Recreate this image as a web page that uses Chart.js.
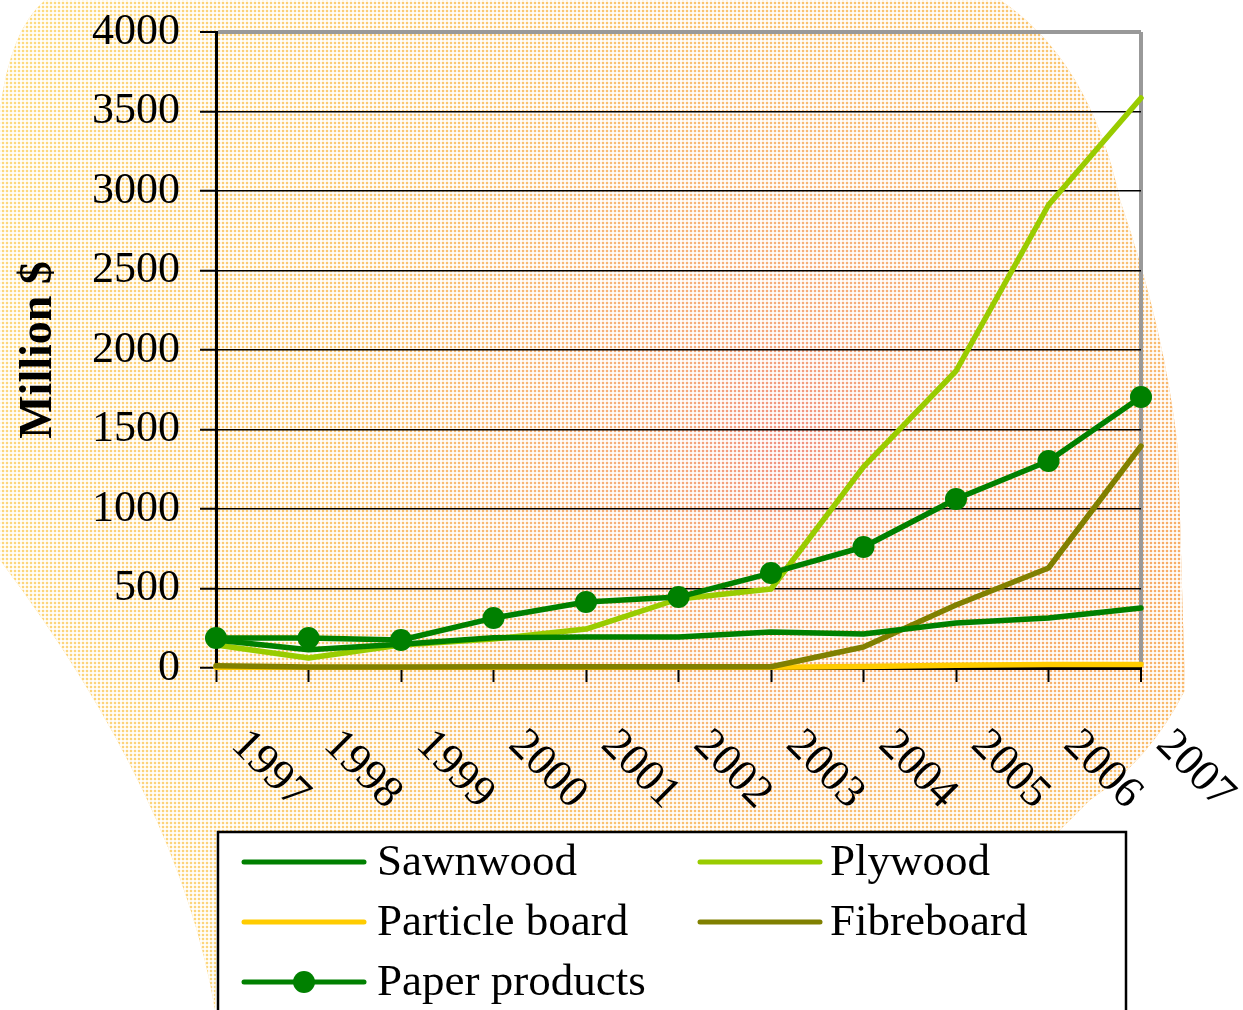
<!DOCTYPE html>
<html>
<head>
<meta charset="utf-8">
<script src="https://cdn.jsdelivr.net/npm/chart.js@4"></script>
<style>
  body { margin: 0; background: #fff; }
  #wrap { width: 1243px; height: 1010px; position: relative; }
</style>
</head>
<body>
<div id="wrap"><canvas id="woodChart"></canvas></div>
<script>
const years = ['1997', '1998', '1999', '2000', '2001', '2002', '2003', '2004', '2005', '2006', '2007'];
const sawnwood = [176, 115, 150, 190, 195, 195, 226, 214, 283, 314, 377];
const plywood = [145, 63, 145, 182, 245, 434, 497, 1265, 1868, 2912, 3585];
const particleBoard = [4, 4, 4, 4, 4, 4, 5, 10, 18, 22, 22];
const fibreboard = [14, 6, 6, 8, 8, 8, 8, 132, 396, 629, 1396];
const paperProducts = [189, 189, 176, 314, 415, 446, 597, 761, 1063, 1302, 1704];
const yTicks = [0, 500, 1000, 1500, 2000, 2500, 3000, 3500, 4000];

const serif = "'Liberation Serif', 'Times New Roman', serif";
Chart.defaults.color = '#000';

// dotted orange/yellow blob behind the chart
const backdrop = {
    id: 'backdrop',
    beforeDraw(chart) {
        const ctx = chart.ctx;
        ctx.save();
        ctx.fillStyle = '#fff';
        ctx.fillRect(0, 0, chart.width, chart.height);
        ctx.beginPath();
        ctx.moveTo(45, 0);
        ctx.lineTo(1000, 0);
        ctx.quadraticCurveTo(1090, 60, 1120, 200);
        ctx.quadraticCurveTo(1165, 330, 1178, 450);
        ctx.lineTo(1185, 690);
        ctx.quadraticCurveTo(1150, 760, 1090, 800);
        ctx.lineTo(1050, 840);
        ctx.lineTo(220, 840);
        ctx.lineTo(215, 1010);
        ctx.quadraticCurveTo(180, 800, 0, 560);
        ctx.lineTo(0, 110);
        ctx.quadraticCurveTo(10, 30, 45, 0);
        ctx.closePath();
        ctx.clip();
        const g = ctx.createRadialGradient(790, 440, 0, 790, 440, 900);
        g.addColorStop(0, '#F09080');
        g.addColorStop(0.14, '#F5AA7A');
        g.addColorStop(0.5, '#FAC470');
        g.addColorStop(1, '#FDDC80');
        ctx.fillStyle = g;
        ctx.fillRect(0, 0, chart.width, chart.height);
        // orange tint on the right-hand side of the blob
        const r = ctx.createRadialGradient(1110, 560, 0, 1110, 560, 260);
        r.addColorStop(0, 'rgba(245,150,90,0.6)');
        r.addColorStop(1, 'rgba(245,150,90,0)');
        ctx.fillStyle = r;
        ctx.fillRect(0, 0, chart.width, chart.height);
        // white grid to give the dotted texture
        ctx.fillStyle = 'rgba(255,255,255,0.82)';
        for (let x = 0; x < chart.width; x += 4) ctx.fillRect(x, 0, 2, chart.height);
        for (let y = 0; y < chart.height; y += 4) ctx.fillRect(0, y, chart.width, 2);
        ctx.restore();
    }
};

// slanted year labels and the boxed legend
const extras = {
    id: 'extras',
    afterDraw(chart) {
        const ctx = chart.ctx;
        const xs = chart.scales.x;
        ctx.save();
        ctx.fillStyle = '#000';
        ctx.font = '45px ' + serif;
        ctx.textAlign = 'left';
        ctx.textBaseline = 'top';
        years.forEach((yr, i) => {
            const px = xs.getPixelForTick(i);
            ctx.save();
            ctx.translate(px + 38, 722);
            ctx.rotate(Math.PI / 4);
            ctx.fillText(yr, 0, 0);
            ctx.restore();
        });

        // legend box
        ctx.fillStyle = '#fff';
        ctx.fillRect(218, 832, 908, 190);
        ctx.strokeStyle = '#000';
        ctx.lineWidth = 2.5;
        ctx.strokeRect(218, 832, 908, 190);

        ctx.font = '45px ' + serif;
        ctx.textBaseline = 'alphabetic';
        chart.data.datasets.forEach((ds, i) => {
            const col = i % 2, row = Math.floor(i / 2);
            const x0 = col === 0 ? 244 : 700;
            const y = 862 + row * 60;
            ctx.strokeStyle = ds.borderColor;
            ctx.lineWidth = 5;
            ctx.lineCap = 'round';
            ctx.beginPath();
            ctx.moveTo(x0, y);
            ctx.lineTo(x0 + 120, y);
            ctx.stroke();
            if (ds.pointRadius > 0) {
                ctx.fillStyle = ds.pointBackgroundColor;
                ctx.beginPath();
                ctx.arc(x0 + 60, y, 11, 0, Math.PI * 2);
                ctx.fill();
            }
            ctx.fillStyle = '#000';
            ctx.fillText(ds.label, col === 0 ? 377 : 830, y + 13);
        });
        ctx.restore();
    }
};

const line = (label, data, color, order, marker) => ({
    label,
    data,
    borderColor: color,
    backgroundColor: color,
    borderWidth: 5.5,
    borderCapStyle: 'round',
    borderJoinStyle: 'round',
    pointRadius: marker ? 11 : 0,
    pointHoverRadius: marker ? 11 : 0,
    pointBackgroundColor: color,
    pointBorderWidth: 0,
    tension: 0,
    clip: false,
    order
});

new Chart(document.getElementById('woodChart'), {
    type: 'line',
    data: {
        labels: years,
        datasets: [
            line('Sawnwood', sawnwood, '#008000', 1, false),
            line('Plywood', plywood, '#99CC00', 2, false),
            line('Particle board', particleBoard, '#FFCC00', 4, false),
            line('Fibreboard', fibreboard, '#808000', 3, false),
            line('Paper products', paperProducts, '#008000', 0, true)
        ]
    },
    options: {
        responsive: true,
        maintainAspectRatio: false,
        animation: false,
        layout: { padding: { top: 32, right: 102, left: 0, bottom: 0 } },
        plugins: {
            legend: { display: false },
            tooltip: { enabled: false }
        },
        scales: {
            x: {
                offset: false,
                ticks: { display: false },
                grid: {
                    color: c => c.index === years.length - 1 ? '#999999' : 'rgba(0,0,0,0)',
                    lineWidth: c => c.index === years.length - 1 ? 4 : 1,
                    tickColor: '#000',
                    tickWidth: 2,
                    tickLength: 14
                },
                border: { color: '#000', width: 3 },
                afterFit(scale) {
                    scale.height = 342;
                    scale.paddingLeft = 0;
                    scale.paddingRight = 0;
                }
            },
            y: {
                min: 0,
                max: 4000,
                afterBuildTicks(scale) { scale.ticks = yTicks.map(v => ({ value: v })); },
                ticks: {
                    padding: 20,
                    font: { size: 44, family: serif },
                    callback: v => String(v)
                },
                grid: {
                    color: c => c.tick && c.tick.value === 4000 ? '#999999' : '#000',
                    lineWidth: c => c.tick && c.tick.value === 4000 ? 4 : 1.5,
                    tickColor: '#000',
                    tickWidth: 2,
                    tickLength: 16
                },
                border: { color: '#000', width: 3 },
                title: {
                    display: true,
                    text: 'Million $',
                    font: { size: 46, weight: 'bold', family: serif },
                    padding: { top: 12, bottom: 0 }
                },
                afterFit(scale) {
                    scale.width = 216;
                    scale.paddingTop = 0;
                    scale.paddingBottom = 0;
                }
            }
        }
    },
    plugins: [backdrop, extras]
});
</script>
</body>
</html>
